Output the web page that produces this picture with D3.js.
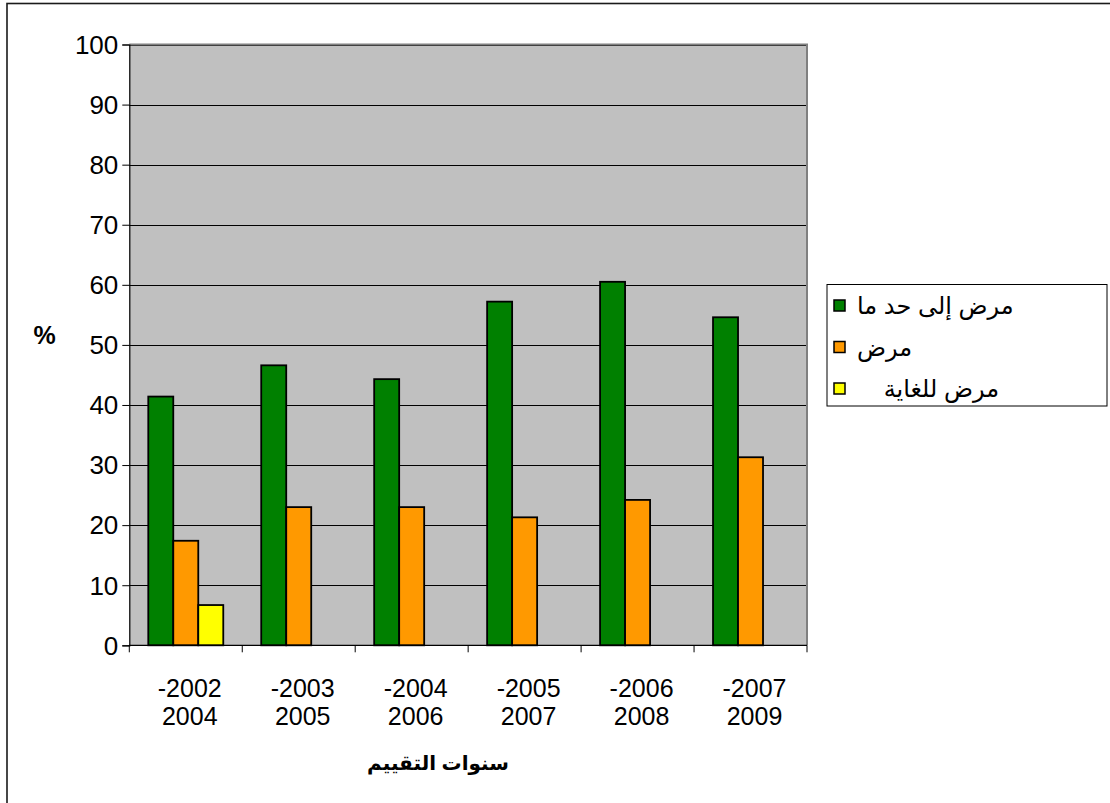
<!DOCTYPE html>
<html>
<head>
<meta charset="utf-8">
<script src="https://cdn.jsdelivr.net/npm/d3@7"></script>
<style>
  html, body { margin: 0; padding: 0; background: #fff; }
  svg { display: block; }
  text { font-family: "Liberation Sans", Arial, "DejaVu Sans", sans-serif; fill: #000; }
</style>
</head>
<body>
<svg id="chart" width="1110" height="803"></svg>
<script>
// ---- data ----
const periodStart = ["-2002", "-2003", "-2004", "-2005", "-2006", "-2007"];
const periodEnd   = ["2004", "2005", "2006", "2007", "2008", "2009"];
const categories  = ["2002-2004", "2003-2005", "2004-2006", "2005-2007", "2006-2008", "2007-2009"];
const seriesNames = ["مرض إلى حد ما", "مرض", "مرض للغاية"];
const moderate = [41.4, 46.6, 44.3, 57.2, 60.5, 54.6];
const sick     = [17.4, 23.0, 23.0, 21.3, 24.2, 31.3];
const severe   = [6.7, null, null, null, null, null];
const seriesColors = ["#008000", "#FF9900", "#FFFF00"];
const yTicks = [0, 10, 20, 30, 40, 50, 60, 70, 80, 90, 100];
const yTitle = "%";
const xTitle = "سنوات التقييم";

const seriesValues = [moderate, sick, severe];

// ---- layout ----
const svg = d3.select("#chart");
const plot = { left: 129.3, top: 44.5, right: 807, bottom: 645.3 };

// outer chart frame
svg.append("rect")
  .attr("x", 7).attr("y", 3.5)
  .attr("width", 1120).attr("height", 820)
  .attr("fill", "#fff").attr("stroke", "#1a1a1a").attr("stroke-width", 1.6);

const x0 = d3.scaleBand()
  .domain(categories)
  .range([plot.left, plot.right])
  .paddingInner(0.336)
  .paddingOuter(0.168);

const x1 = d3.scaleBand()
  .domain(seriesNames)
  .range([0, x0.bandwidth()])
  .padding(0);

const y = d3.scaleLinear().domain([0, 100]).range([plot.bottom, plot.top]);

// plot background
svg.append("rect")
  .attr("x", plot.left).attr("y", plot.top)
  .attr("width", plot.right - plot.left).attr("height", plot.bottom - plot.top)
  .attr("fill", "#C0C0C0");

// gridlines
svg.append("g")
  .selectAll("line")
  .data(yTicks.filter(d => d > 0))
  .join("line")
  .attr("x1", plot.left).attr("x2", plot.right)
  .attr("y1", d => Math.round(y(d)) + 0.5).attr("y2", d => Math.round(y(d)) + 0.5)
  .attr("stroke", "#000").attr("stroke-width", 1);

// plot border (grey) top/right
svg.append("path")
  .attr("d", `M${plot.left},${plot.top} H${plot.right} V${plot.bottom}`)
  .attr("fill", "none").attr("stroke", "#808080").attr("stroke-width", 2);

// bars
const flat = [];
categories.forEach((c, i) => {
  seriesNames.forEach((s, j) => {
    const v = seriesValues[j][i];
    if (v != null) flat.push({ c, s, v, color: seriesColors[j] });
  });
});

svg.append("g")
  .selectAll("rect")
  .data(flat)
  .join("rect")
  .attr("x", d => x0(d.c) + x1(d.s))
  .attr("y", d => y(d.v))
  .attr("width", x1.bandwidth())
  .attr("height", d => y(0) - y(d.v))
  .attr("fill", d => d.color)
  .attr("stroke", "#000")
  .attr("stroke-width", 1.8);

// y axis
const yAxis = d3.axisLeft(y).tickValues(yTicks).tickSize(7).tickPadding(4).tickFormat(d3.format("d"));
const gy = svg.append("g").attr("transform", `translate(${plot.left},0)`).call(yAxis);
gy.select(".domain").attr("stroke", "#000").attr("stroke-width", 1.2);
gy.selectAll(".tick line").attr("stroke", "#000");
gy.selectAll(".tick text").attr("font-size", 26).attr("font-family", "Liberation Sans, Arial, sans-serif").attr("dy", "0.34em");

// x axis (ticks at category boundaries)
const boundaries = categories.map(c => x0(c) - x0.step() * x0.paddingInner() / 2)
  .concat([plot.right]);
svg.append("line")
  .attr("x1", plot.left).attr("x2", plot.right)
  .attr("y1", plot.bottom).attr("y2", plot.bottom)
  .attr("stroke", "#000").attr("stroke-width", 1.2);
svg.append("g").selectAll("line")
  .data(boundaries)
  .join("line")
  .attr("x1", d => d).attr("x2", d => d)
  .attr("y1", plot.bottom).attr("y2", plot.bottom + 7)
  .attr("stroke", "#000");

const xl = svg.append("g").selectAll("text")
  .data(categories)
  .join("text")
  .attr("text-anchor", "middle")
  .attr("font-size", 25)
  .attr("x", d => x0(d) + x0.bandwidth() / 2 + 4)
  .attr("y", 697);
xl.append("tspan").text((d, i) => periodStart[i]);
xl.append("tspan")
  .attr("x", d => x0(d) + x0.bandwidth() / 2 + 4)
  .attr("dy", 28)
  .text((d, i) => periodEnd[i]);

// axis titles
svg.append("text")
  .attr("x", 44.5).attr("y", 344)
  .attr("text-anchor", "middle")
  .attr("font-weight", "bold").attr("font-size", 25)
  .text(yTitle);

svg.append("text")
  .attr("x", 438).attr("y", 770)
  .attr("text-anchor", "middle")
  .attr("font-weight", "bold").attr("font-size", 20)
  .attr("font-family", "DejaVu Sans, sans-serif")
  .text(xTitle);

// legend
const legend = svg.append("g");
legend.append("rect")
  .attr("x", 827).attr("y", 284.5)
  .attr("width", 280).attr("height", 121.5)
  .attr("fill", "#fff").attr("stroke", "#000").attr("stroke-width", 1);

const legendRows = seriesNames.map((s, i) => ({ s, color: seriesColors[i], i }));
const legendPad = ["", "", "\u00a0\u00a0\u00a0\u00a0"];
const ly = d3.scalePoint().domain(seriesNames).range([306, 389]);

legend.selectAll("rect.sw")
  .data(legendRows)
  .join("rect")
  .attr("class", "sw")
  .attr("x", 834).attr("y", d => ly(d.s) - 6)
  .attr("width", 11).attr("height", 11)
  .attr("fill", d => d.color).attr("stroke", "#000").attr("stroke-width", 1.5);

legend.selectAll("text")
  .data(legendRows)
  .join("text")
  .attr("x", 857)
  .attr("y", d => ly(d.s) + 8)
  .attr("direction", "rtl")
  .attr("text-anchor", "end")
  .attr("font-size", 24)
  .style("white-space", "pre")
  .text(d => d.s + legendPad[d.i]);
</script>
</body>
</html>
